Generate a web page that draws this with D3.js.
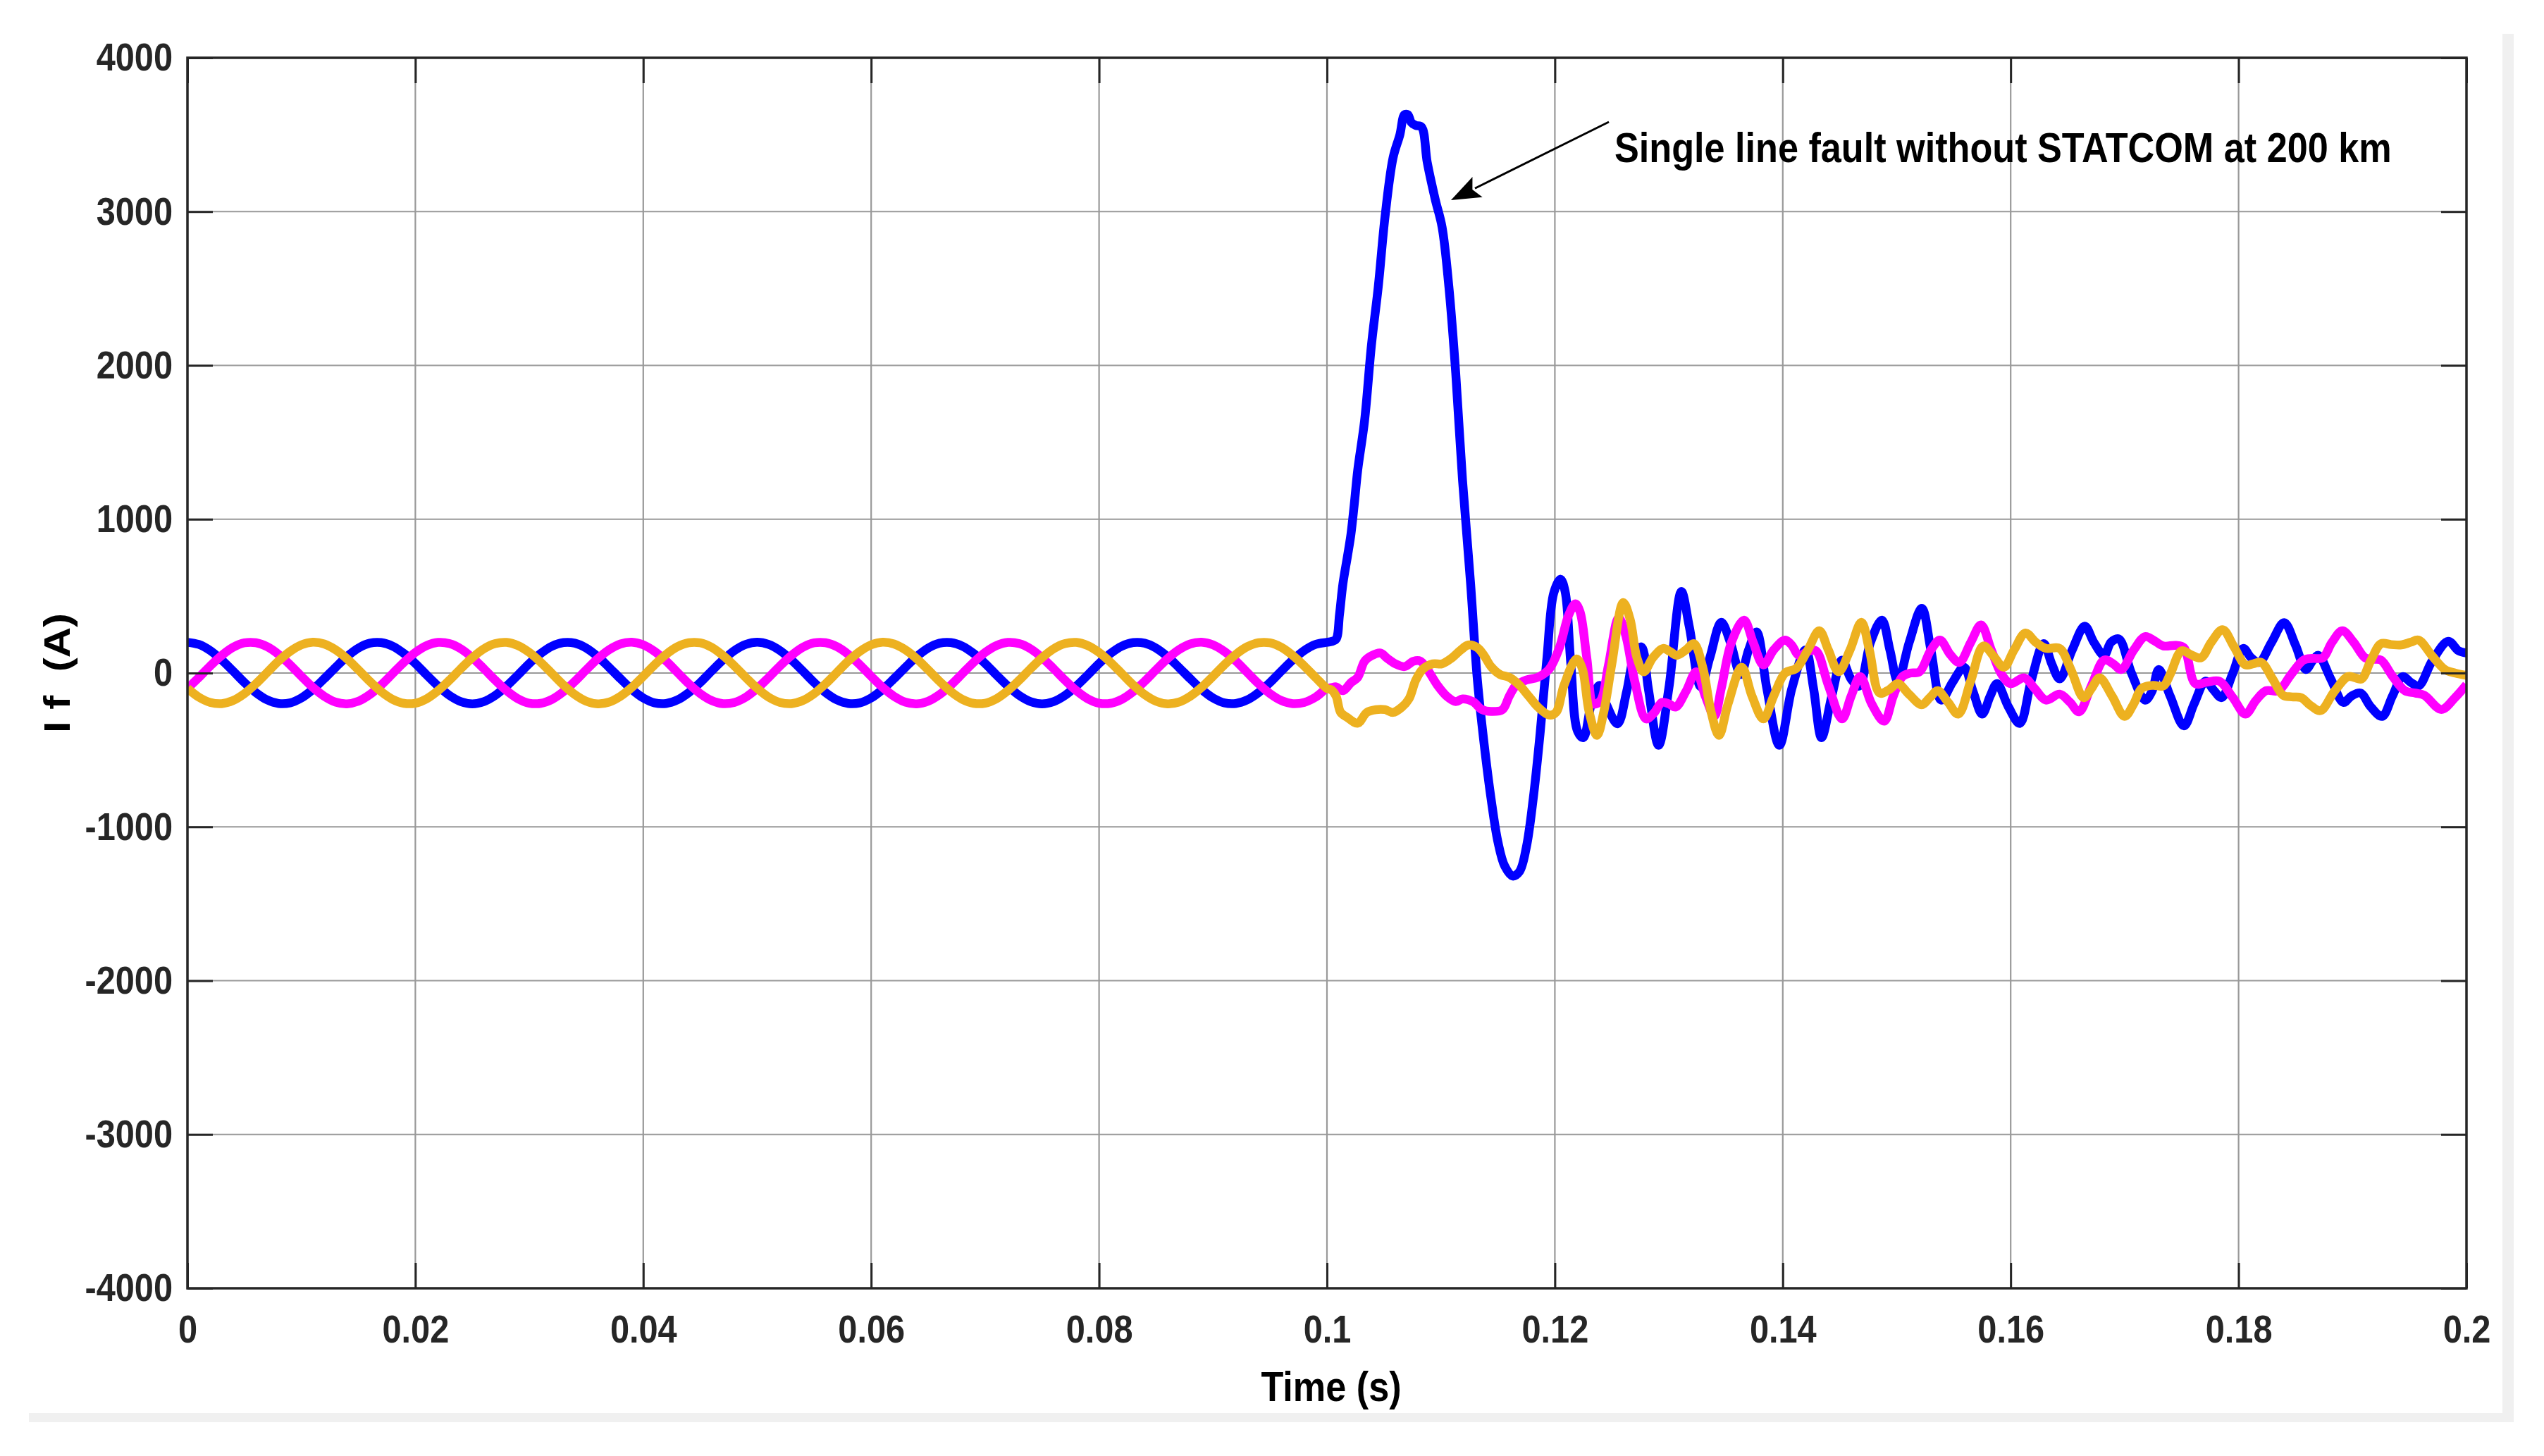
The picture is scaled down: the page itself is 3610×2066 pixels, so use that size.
<!DOCTYPE html>
<html lang="en">
<head>
<meta charset="utf-8">
<title>Single line fault without STATCOM at 200 km</title>
<script src="https://d3js.org/d3.v7.min.js"></script>
<style>
  body { margin: 0; background: #fff; }
  svg { display: block; font-family: "Liberation Sans", Arial, sans-serif; font-weight: bold; }
</style>
</head>
<body>
<svg width="3610" height="2066"></svg>
<script>
// ---- data ----
const xTicks = [0, 0.02, 0.04, 0.06, 0.08, 0.1, 0.12, 0.14, 0.16, 0.18, 0.2];
const yTicks = [-4000, -3000, -2000, -1000, 0, 1000, 2000, 3000, 4000];

// steady state before the fault, one sample per ms from 0 to 0.1 s
const preStep = 0.001;
const phaseAPre = [200,186,146,85,13,-62,-127,-175,-198,-194,-162,-107,-37,37,107,162,194,198,175,127,62,-13,-85,-146,-186,-200,-186,-146,-85,-13,62,127,175,198,194,162,107,37,-37,-107,-162,-194,-198,-175,-127,-62,13,85,146,186,200,
  186,146,85,13,-62,-127,-175,-198,-194,-162,-107,-37,37,107,162,194,198,175,127,62,-13,-85,-146,-186,-200,-186,-146,-85,-13,62,127,175,198,194,162,107,37,-37,-107,-162,-194,-198,-175,-127,-62,13,85,146,186,200];
const phaseBPre = [-100,-29,46,114,167,196,197,171,121,54,-21,-93,-151,-189,-200,-183,-140,-78,-4,70,134,179,199,191,157,100,29,-46,-114,-167,-196,-197,-171,-121,-54,21,93,151,189,200,183,140,78,4,-70,-134,-179,-199,-191,-157,-100,
  -29,46,114,167,196,197,171,121,54,-21,-93,-151,-189,-200,-183,-140,-78,-4,70,134,179,199,191,157,100,29,-46,-114,-167,-196,-197,-171,-121,-54,21,93,151,189,200,183,140,78,4,-70,-134,-179,-199,-191,-157,-100];
const phaseCPre = [-100,-157,-191,-199,-179,-134,-70,4,78,140,183,200,189,151,93,21,-54,-121,-171,-197,-196,-167,-114,-46,29,100,157,191,199,179,134,70,-4,-78,-140,-183,-200,-189,-151,-93,-21,54,121,171,197,196,167,114,46,-29,-100,
  -157,-191,-199,-179,-134,-70,4,78,140,183,200,189,151,93,21,-54,-121,-171,-197,-196,-167,-114,-46,29,100,157,191,199,179,134,70,-4,-78,-140,-183,-200,-189,-151,-93,-21,54,121,171,197,196,167,114,46,-29,-100];

// after the fault: [time s, current A]
const phaseAPost = [[0.1004,205],[0.1008,220],[0.1011,380],[0.1014,580],[0.1018,760],[0.1021,900],[0.1024,1100],[0.1027,1320],[0.1033,1640],[0.1039,2130],[0.1045,2510],[0.1051,2970],[0.1058,3350],[0.1064,3500],[0.1068,3630],[0.1071,3630],[0.1074,3580],[0.1078,3560],[0.1083,3550],[0.1088,3320],[0.1095,3080],[0.1101,2900],[0.1107,2510],[0.1113,1950],[0.1119,1250],[0.1126,585],[0.1132,-45],[0.1138,-466],[0.1144,-817],[0.1150,-1097],[0.1156,-1255],[0.1163,-1320],[0.1169,-1290],[0.1175,-1132],[0.1181,-817],[0.1187,-396],[0.1193,95],[0.1199,520],[0.1205,610],[0.1209,530],[0.1214,60],[0.1220,-380],[0.1225,-420],[0.1232,-200],[0.1239,-80],[0.1245,-200],[0.1255,-330],[0.1263,-120],[0.1270,120],[0.1276,170],[0.1282,-100],[0.1291,-470],[0.1300,-100],[0.1311,530],[0.1318,300],[0.1328,-90],[0.1336,100],[0.1346,330],[0.1354,200],[0.1363,-10],[0.1370,150],[0.1377,267],[0.1386,-100],[0.1397,-470],[0.1408,-100],[0.1420,150],[0.1427,-100],[0.1434,-420],[0.1443,-150],[0.1452,84],[0.1460,-40],[0.1467,-85],[0.1477,200],[0.1487,344],[0.1494,150],[0.1501,-53],[0.1511,200],[0.1522,420],[0.1530,150],[0.1539,-176],[0.1549,-60],[0.1559,38],[0.1567,-120],[0.1575,-267],[0.1582,-150],[0.1588,-69],[0.1598,-220],[0.1608,-328],[0.1618,-50],[0.1629,191],[0.1636,60],[0.1643,-38],[0.1654,150],[0.1665,305],[0.1673,200],[0.1682,115],[0.1688,200],[0.1695,221],[0.1706,0],[0.1718,-176],[0.1724,-120],[0.1730,23],[0.1740,-150],[0.1752,-344],[0.1761,-200],[0.1771,-53],[0.1778,-110],[0.1785,-160],[0.1795,0],[0.1804,160],[0.1811,100],[0.1818,69],[0.1829,200],[0.1840,328],[0.1850,180],[0.1859,23],[0.1865,80],[0.1870,115],[0.1881,-40],[0.1892,-191],[0.1899,-150],[0.1907,-130],[0.1916,-220],[0.1926,-282],[0.1935,-150],[0.1944,-23],[0.1951,-60],[0.1958,-84],[0.1970,80],[0.1984,206],[0.1993,145],[0.2,130]];
const phaseBPost = [[0.1004,-95],[0.1008,-90],[0.1014,-115],[0.1021,-63],[0.1027,-28],[0.1033,77],[0.1039,112],[0.1047,130],[0.1053,95],[0.1060,60],[0.1068,42],[0.1076,77],[0.1082,77],[0.1088,25],[0.1097,-80],[0.1105,-150],[0.1113,-186],[0.1119,-168],[0.1128,-186],[0.1136,-238],[0.1144,-250],[0.1154,-238],[0.1160,-150],[0.1166,-80],[0.1175,-45],[0.1185,-28],[0.1195,25],[0.1204,165],[0.1212,375],[0.1218,450],[0.1222,400],[0.1228,100],[0.1234,-200],[0.1240,-180],[0.1247,50],[0.1256,359],[0.1262,250],[0.1270,-50],[0.1280,-298],[0.1287,-260],[0.1294,-191],[0.1300,-200],[0.1306,-221],[0.1315,-120],[0.1324,8],[0.1332,-150],[0.1340,-280],[0.1346,-100],[0.1355,200],[0.1366,344],[0.1374,200],[0.1383,53],[0.1392,150],[0.1402,214],[0.1408,180],[0.1414,115],[0.1422,140],[0.1429,145],[0.1440,-80],[0.1452,-298],[0.1460,-150],[0.1468,-23],[0.1478,-200],[0.1489,-313],[0.1497,-150],[0.1505,-23],[0.1512,0],[0.1520,8],[0.1530,150],[0.1538,214],[0.1547,120],[0.1555,69],[0.1565,200],[0.1574,313],[0.1583,150],[0.1592,-8],[0.1600,-69],[0.1612,-31],[0.1621,-100],[0.1631,-176],[0.1643,-137],[0.1652,-190],[0.1660,-252],[0.1671,-80],[0.1682,84],[0.1690,60],[0.1697,23],[0.1708,150],[0.1718,237],[0.1726,210],[0.1734,176],[0.1745,180],[0.1752,165],[0.1762,-69],[0.1772,-60],[0.1783,-53],[0.1795,-160],[0.1806,-267],[0.1815,-180],[0.1824,-115],[0.1835,-115],[0.1846,-10],[0.1857,84],[0.1865,95],[0.1874,99],[0.1882,200],[0.1891,275],[0.1901,200],[0.1911,99],[0.1918,90],[0.1925,84],[0.1935,-20],[0.1946,-115],[0.1955,-130],[0.1963,-145],[0.1978,-237],[0.1990,-160],[0.2,-76]];
const phaseCPost = [[0.1004,-110],[0.1008,-150],[0.1012,-256],[0.1018,-290],[0.1027,-326],[0.1035,-256],[0.1043,-238],[0.1051,-238],[0.1058,-256],[0.1066,-220],[0.1072,-168],[0.1078,-45],[0.1084,25],[0.1093,60],[0.1101,60],[0.1109,95],[0.1117,147],[0.1124,182],[0.1132,165],[0.1138,112],[0.1144,42],[0.1152,-10],[0.1160,-28],[0.1169,-80],[0.1177,-150],[0.1185,-220],[0.1195,-273],[0.1201,-256],[0.1208,-80],[0.1219,92],[0.1224,30],[0.1230,-250],[0.1237,-405],[0.1243,-250],[0.1250,60],[0.1260,458],[0.1266,350],[0.1272,100],[0.1278,8],[0.1286,100],[0.1295,160],[0.1301,140],[0.1307,115],[0.1315,150],[0.1322,191],[0.1330,30],[0.1337,-250],[0.1344,-405],[0.1352,-200],[0.1364,38],[0.1373,-150],[0.1383,-298],[0.1392,-150],[0.1402,0],[0.1412,31],[0.1422,150],[0.1432,275],[0.1440,150],[0.1449,8],[0.1459,150],[0.1469,330],[0.1476,150],[0.1485,-130],[0.1493,-110],[0.1501,-69],[0.1511,-140],[0.1522,-206],[0.1529,-160],[0.1536,-115],[0.1545,-190],[0.1554,-267],[0.1565,-50],[0.1576,176],[0.1585,110],[0.1594,38],[0.1603,150],[0.1613,260],[0.1622,200],[0.1631,160],[0.1643,160],[0.1653,20],[0.1664,-160],[0.1671,-100],[0.1678,-31],[0.1689,-150],[0.1700,-282],[0.1708,-200],[0.1715,-99],[0.1725,-80],[0.1734,-84],[0.1740,-8],[0.1750,145],[0.1758,120],[0.1767,99],[0.1776,200],[0.1786,282],[0.1796,170],[0.1806,53],[0.1813,60],[0.1820,69],[0.1830,-40],[0.1839,-145],[0.1847,-155],[0.1855,-160],[0.1863,-210],[0.1872,-244],[0.1884,-120],[0.1896,-23],[0.1902,-30],[0.1908,-38],[0.1916,80],[0.1925,191],[0.1934,185],[0.1943,183],[0.1951,200],[0.1958,214],[0.1970,110],[0.1981,23],[0.1990,0],[0.2,-15]];

const seriesColors = ["#0000ff", "#ff00ff", "#edb120"];

// annotation: arrow tail / tip and text anchor in data units
const noteText = "Single line fault without STATCOM at 200 km";
const noteTail = [0.12474, 3583];
const noteTip = [0.11088, 3074];
const notePos = [0.12523, 3322];

// ---- layout ----
const svg = d3.select("svg");
const plotL = 266, plotR = 3500, plotT = 82, plotB = 1828;
const squeeze = 0.87;   // text in the original is a bit narrow

const x = d3.scaleLinear().domain([0, 0.2]).range([plotL, plotR]);
const y = d3.scaleLinear().domain([-4000, 4000]).range([plotB, plotT]);

// light frame shadow round the figure
svg.append("rect").attr("x", 41).attr("y", 2005).attr("width", 3526).attr("height", 13).attr("fill", "#f0f0f0");
svg.append("rect").attr("x", 3551).attr("y", 48).attr("width", 16).attr("height", 1970).attr("fill", "#f0f0f0");

// grid
const grid = svg.append("g").attr("stroke", "#999").attr("stroke-width", 2.2);
grid.selectAll(".gx").data(xTicks).join("line").attr("class", "gx")
  .attr("x1", d => x(d)).attr("x2", d => x(d)).attr("y1", plotT).attr("y2", plotB);
grid.selectAll(".gy").data(yTicks).join("line").attr("class", "gy")
  .attr("x1", plotL).attr("x2", plotR).attr("y1", d => y(d)).attr("y2", d => y(d));

// curves
svg.append("clipPath").attr("id", "plotArea")
  .append("rect").attr("x", plotL).attr("y", plotT).attr("width", plotR - plotL).attr("height", plotB - plotT);

const line = d3.line()
  .x(d => x(d[0])).y(d => y(d[1]))
  .curve(d3.curveCatmullRom.alpha(0.5));

const series = [
  phaseAPre.map((v, i) => [i * preStep, v]).concat(phaseAPost),
  phaseBPre.map((v, i) => [i * preStep, v]).concat(phaseBPost),
  phaseCPre.map((v, i) => [i * preStep, v]).concat(phaseCPost)
];

svg.append("g").attr("clip-path", "url(#plotArea)")
  .selectAll("path").data(series).join("path")
  .attr("d", line)
  .attr("fill", "none")
  .attr("stroke", (d, i) => seriesColors[i])
  .attr("stroke-width", 12.5)
  .attr("stroke-linejoin", "round");

// axes: inward ticks on all four sides
const tickLen = 36;
const axisColor = "#262626";

const xAxis = svg.append("g").attr("transform", `translate(0,${plotB})`)
  .call(d3.axisBottom(x).tickValues(xTicks).tickFormat(d => String(d))
    .tickSizeInner(-tickLen).tickSizeOuter(0).tickPadding(37));
const yAxis = svg.append("g").attr("transform", `translate(${plotL},0)`)
  .call(d3.axisLeft(y).tickValues(yTicks).tickFormat(d => String(d))
    .tickSizeInner(-tickLen).tickSizeOuter(0).tickPadding(21));
const xTop = svg.append("g").attr("transform", `translate(0,${plotT})`)
  .call(d3.axisTop(x).tickValues(xTicks).tickFormat("").tickSizeInner(-tickLen).tickSizeOuter(0));
const yRight = svg.append("g").attr("transform", `translate(${plotR},0)`)
  .call(d3.axisRight(y).tickValues(yTicks).tickFormat("").tickSizeInner(-tickLen).tickSizeOuter(0));

[xAxis, yAxis, xTop, yRight].forEach(g => {
  g.select(".domain").remove();
  g.selectAll(".tick line").attr("stroke", axisColor).attr("stroke-width", 3);
  g.selectAll("text")
    .attr("fill", axisColor)
    .style("font-family", '"Liberation Sans", Arial, sans-serif')
    .style("font-weight", "bold")
    .style("font-size", "56px");
});
yAxis.selectAll("text").attr("x", -21 / squeeze).attr("transform", `scale(${squeeze},1)`);
xAxis.selectAll("text").attr("transform", `scale(${squeeze},1)`);

svg.append("rect")
  .attr("x", plotL).attr("y", plotT).attr("width", plotR - plotL).attr("height", plotB - plotT)
  .attr("fill", "none").attr("stroke", axisColor).attr("stroke-width", 3.5);

// axis titles
svg.append("text")
  .attr("transform", `translate(${(plotL + plotR) / 2 + 6},1988) scale(${squeeze},1)`)
  .attr("text-anchor", "middle")
  .style("font-size", "60px")
  .attr("fill", "#000")
  .text("Time (s)");

svg.append("text")
  .attr("transform", `translate(99,${(plotT + plotB) / 2}) rotate(-90) scale(1,${squeeze})`)
  .attr("text-anchor", "middle")
  .style("font-size", "60px")
  .style("white-space", "pre")
  .attr("fill", "#000")
  .text("I f  (A)");

// annotation
const tail = [x(noteTail[0]), y(noteTail[1])];
const tip = [x(noteTip[0]), y(noteTip[1])];
const len = Math.hypot(tail[0] - tip[0], tail[1] - tip[1]);
const ux = (tail[0] - tip[0]) / len, uy = (tail[1] - tip[1]) / len;
const headLen = 42, headHalf = 16;
const base = [tip[0] + ux * headLen, tip[1] + uy * headLen];

svg.append("line")
  .attr("x1", tail[0]).attr("y1", tail[1])
  .attr("x2", base[0] - ux * 4).attr("y2", base[1] - uy * 4)
  .attr("stroke", "#000").attr("stroke-width", 3);
svg.append("path")
  .attr("d", `M${tip[0]},${tip[1]}L${base[0] - uy * headHalf},${base[1] + ux * headHalf}L${base[0] - ux * 8},${base[1] - uy * 8}L${base[0] + uy * headHalf},${base[1] - ux * headHalf}Z`)
  .attr("fill", "#000");

svg.append("text")
  .attr("transform", `translate(${x(notePos[0])},${y(notePos[1])}) scale(${squeeze},1)`)
  .style("font-size", "60px")
  .attr("fill", "#000")
  .text(noteText);
</script>
</body>
</html>
